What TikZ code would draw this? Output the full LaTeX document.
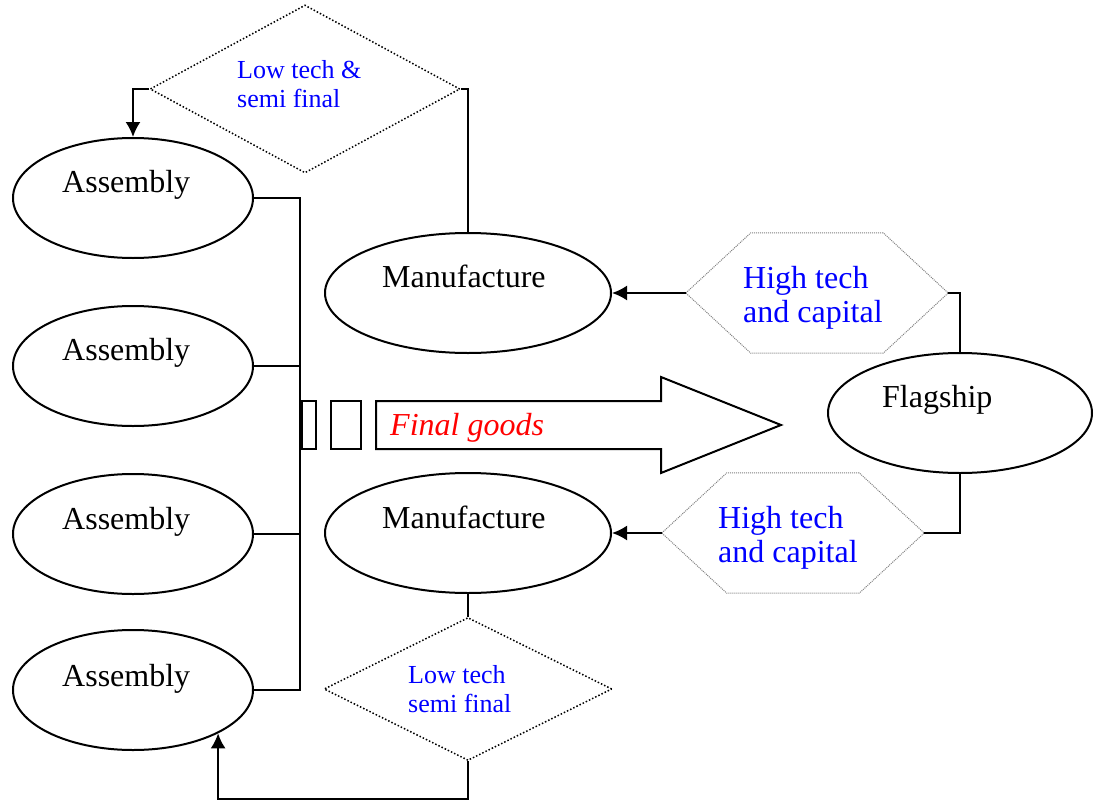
\documentclass[tikz,border=0pt]{standalone}
\usepackage{fontspec}
\setmainfont{Liberation Serif}
\usetikzlibrary{shapes.geometric, arrows.meta}

\begin{document}
\begin{tikzpicture}[x=1pt, y=-1pt,
    blob/.style={ellipse, draw, line width=2pt, minimum height=120pt, inner sep=0pt},
    word/.style={anchor=base west, inner sep=0pt, font=\fontsize{32}{34}\selectfont},
    blueword/.style={word, text=blue, align=left},
    lowbox/.style={diamond, draw, line width=1.5pt, dash pattern=on 1.5pt off 2pt,
        minimum width=#1, inner sep=0pt},
    hexbox/.style={rectangle, minimum width=262pt, minimum height=120pt, inner sep=0pt},
    hexline/.style={gray, line width=1pt, dash pattern=on 1pt off 1pt},
    link/.style={line width=2pt},
    arr/.style={link, -{Latex[length=15pt, width=15pt]}}]

    \useasboundingbox (0,0) rectangle (1096,803);

    % assembly plants on the left
    \node[blob, minimum width=240pt] (a1) at (133,198) {};
    \node[blob, minimum width=240pt] (a2) at (133,366) {};
    \node[blob, minimum width=240pt] (a3) at (133,534) {};
    \node[blob, minimum width=240pt] (a4) at (133,690) {};
    \node[word] (a1t) at (62,192) {Assembly};
    \node[word] (a2t) at (62,360) {Assembly};
    \node[word] (a3t) at (62,529) {Assembly};
    \node[word] (a4t) at (62,686) {Assembly};

    % manufacture and flagship
    \node[blob, minimum width=286pt] (m1) at (468,293) {};
    \node[blob, minimum width=286pt] (m2) at (468,533) {};
    \node[blob, minimum width=264pt] (fl) at (960,413) {};
    \node[word] (m1t) at (382,287) {Manufacture};
    \node[word] (m2t) at (382,528) {Manufacture};
    \node[word] (flt) at (882,407) {Flagship};

    % flows (multi-line text sits on its last line)
    \node[lowbox=310pt, minimum height=168pt] (d1) at (305,89) {};
    \node[lowbox=288pt, minimum height=143pt] (d2) at (468,689) {};
    \node[blueword, font=\fontsize{26}{29}\selectfont] (d1t) at (237,107) {Low tech \&\\semi final};
    \node[blueword, font=\fontsize{26}{29}\selectfont] (d2t) at (408,712) {Low tech\\semi final};
    \node[hexbox] (hu) at (817,293) {};
    \node[hexbox] (hl) at (793,533) {};
    \foreach \h in {hu,hl}
        \draw[hexline] (\h.west) -- ([xshift=65pt]\h.north west) -- ([xshift=-65pt]\h.north east)
            -- (\h.east) -- ([xshift=-65pt]\h.south east) -- ([xshift=65pt]\h.south west) -- cycle;
    \node[blueword] (hut) at (743,322) {High tech\\and capital};
    \node[blueword] (hlt) at (718,562) {High tech\\and capital};

    % final goods arrow
    \draw[link] (302,401) rectangle (316,449);
    \draw[link] (331,401) rectangle (361,449);
    \draw[link, line join=miter] (376,401) -- (661,401) -- (661,377) -- (781,425)
        -- (661,473) -- (661,449) -- (376,449) -- cycle;
    \node[word, text=red, font=\fontsize{32}{34}\selectfont\itshape] (fg) at (390,435) {Final goods};

    % connectors
    \coordinate (bus) at (300,198);
    \coordinate (low) at (468,799);
    \draw[link] (a1.east) -- (bus) |- (a4.east);
    \foreach \a in {a2,a3}
        \draw[link] (\a.east) -- (\a.east -| bus);
    \draw[link] (m1.north) |- (d1.east);
    \draw[arr] (d1.west) -| (a1.north);
    \draw[arr] (hu.west) -- (m1.east);
    \draw[link] (hu.east) -| (fl.north);
    \draw[link] (fl.south) |- (hl.east);
    \draw[arr] (hl.west) -- (m2.east);
    \draw[link] (m2.south) -- (d2.north);
    \draw[arr] (d2.south) -- (low) -| (a4.-27);
\end{tikzpicture}
\end{document}
